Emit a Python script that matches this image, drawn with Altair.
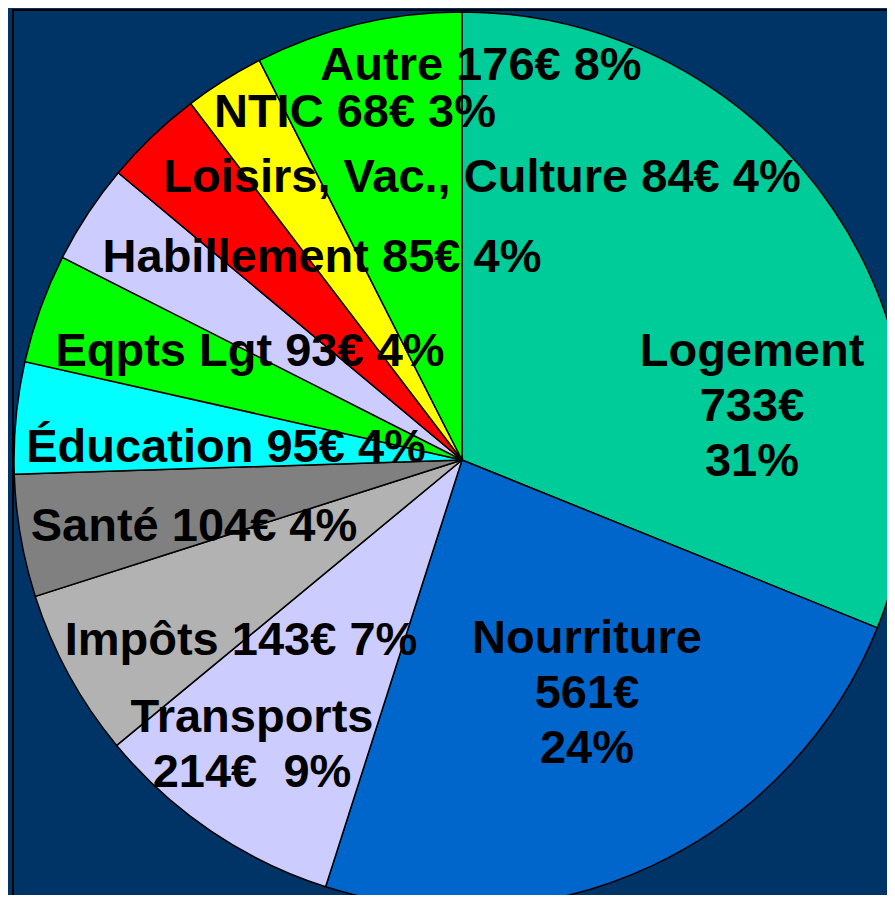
import altair as alt
import pandas as pd

categories = ["Logement", "Nourriture", "Transports", "Impôts", "Santé", "Éducation",
              "Eqpts Lgt", "Habillement", "Loisirs, Vac., Culture", "NTIC", "Autre"]
amounts = [733, 561, 214, 143, 104, 95, 93, 85, 84, 68, 176]
colors = ["#00CC99", "#0066CC", "#CCCCFF", "#B2B2B2", "#808080", "#00FFFF",
          "#00FF00", "#CCCCFF", "#FF0000", "#FFFF00", "#00FF00"]
label_texts = ["Logement\n733€\n31%", "Nourriture\n561€\n24%", "Transports\n214€\u00a0\u00a09%",
               "Impôts 143€ 7%", "Santé 104€ 4%", "Éducation 95€ 4%", "Eqpts Lgt 93€ 4%",
               "Habillement 85€ 4%", "Loisirs, Vac., Culture 84€ 4%", "NTIC 68€ 3%",
               "Autre 176€ 8%"]

# layout (pixel positions of label first-line centres, chart coordinates)
label_x = [744, 579, 244, 233, 186, 218, 242, 314, 474, 347, 473]
label_y = [344, 631, 710, 633, 519, 440, 344, 250, 170, 105, 58]

W, H = 879, 887
CX, CY, R = 454, 452, 448

df = pd.DataFrame({"cat": categories, "amount": amounts, "order": list(range(len(categories)))})
lab = pd.DataFrame({"text": label_texts, "lx": label_x, "ly": label_y})

frame = alt.Chart(pd.DataFrame({"a": [0]})).mark_rect(
    fill=None, stroke="black", strokeWidth=2
).encode(x=alt.value(5), y=alt.value(2), x2=alt.value(920), y2=alt.value(920))

pie = alt.Chart(df).mark_arc(radius=R, stroke="black", strokeWidth=1.5).encode(
    theta=alt.Theta("amount:Q", stack=True),
    order=alt.Order("order:Q"),
    color=alt.Color("cat:N", scale=alt.Scale(domain=categories, range=colors), legend=None),
    x=alt.value(CX), y=alt.value(CY),
)

labels = alt.Chart(lab).mark_text(
    font="Liberation Sans", fontWeight="bold", fontSize=47, color="black",
    align="center", baseline="middle", lineBreak="\n", lineHeight=55
).encode(
    x=alt.X("lx:Q", scale=None), y=alt.Y("ly:Q", scale=None), text="text:N"
)

chart = alt.layer(frame, pie, labels).properties(
    width=W, height=H, background="#003366", padding=0,
    autosize=alt.AutoSizeParams(type="none")
).configure_view(stroke=None)

chart.save("out.html", embed_options={"renderer": "svg", "actions": False})
